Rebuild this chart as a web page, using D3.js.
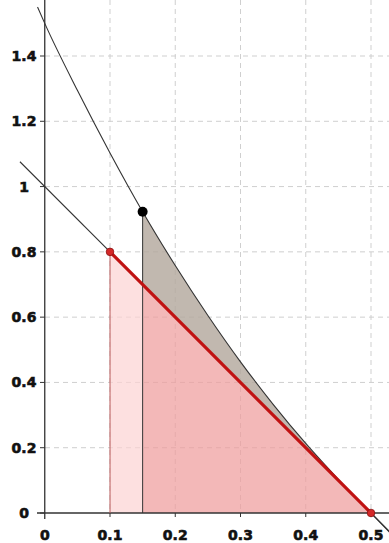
<!DOCTYPE html>
<html>
<head>
<meta charset="utf-8">
<script src="https://cdn.jsdelivr.net/npm/d3@7"></script>
<style>
	html, body { margin: 0; padding: 0; background: #fff; }
	svg { display: block; }
</style>
</head>
<body>
<svg id="chart" width="389" height="543"></svg>
<script>

// tick labels
let xTicks = [0, 0.1, 0.2, 0.3, 0.4, 0.5];
let yTicks = [0, 0.2, 0.4, 0.6, 0.8, 1, 1.2, 1.4];

// straight line through (0,1) and (0.5,0)
let lineX = [-0.038, 0.53];
let lineY = [1.076, -0.06];

// the upper curve
let curveX = [-0.011, 0, 0.05, 0.1, 0.15, 0.2, 0.25, 0.3, 0.35, 0.4, 0.45, 0.5, 0.53];
let curveY = [1.55, 1.5, 1.295, 1.103, 0.923, 0.758, 0.605, 0.463, 0.333, 0.213, 0.103, 0, -0.062];

// red segment and its end points
let redX = [0.1, 0.5];
let redY = [0.8, 0];

// black point on the curve and where its drop meets the line
let blackX = 0.15;
let blackY = 0.923;
let footY = 0.7;

let svg = d3.select('#chart');

let x = d3.scaleLinear().domain([0, 0.5]).range([44.75, 371]);
let y = d3.scaleLinear().domain([0, 1.4]).range([513, 56]);

// grid
let grid = svg.append('g')
	.attr('stroke', '#cfcfcf')
	.attr('stroke-width', 1)
	.attr('stroke-dasharray', '5,4');
for (let t of xTicks.slice(1)) {
	grid.append('line')
		.attr('x1', x(t)).attr('x2', x(t))
		.attr('y1', 0).attr('y2', 513);
}
for (let t of yTicks.slice(1)) {
	grid.append('line')
		.attr('x1', 45).attr('x2', 389)
		.attr('y1', y(t)).attr('y2', y(t));
}

let curvePts = curveX.map((d, i) => [d, curveY[i]]);
let path = d3.line().x(d => x(d[0])).y(d => y(d[1]));
let smooth = d3.line().x(d => x(d[0])).y(d => y(d[1])).curve(d3.curveMonotoneX);

// light pink triangle from x = 0.1
svg.append('path')
	.attr('d', path([[redX[0], 0], [redX[0], redY[0]], [blackX, footY], [blackX, 0]]) + 'Z')
	.attr('fill', 'rgba(252,211,211,0.7)');

// darker pink part from x = 0.15
svg.append('path')
	.attr('d', path([[blackX, 0], [blackX, footY], [redX[1], redY[1]]]) + 'Z')
	.attr('fill', 'rgba(238,156,156,0.72)');

// gray region between the curve and the line
let grayTop = curvePts.filter(d => d[0] >= blackX && d[0] <= redX[1]);
svg.append('path')
	.attr('d', smooth(grayTop) + 'L' + x(blackX) + ',' + y(footY) + 'Z')
	.attr('fill', 'rgba(179,168,158,0.82)');

// axes
svg.append('line')
	.attr('x1', 37).attr('x2', 389)
	.attr('y1', y(0)).attr('y2', y(0))
	.attr('stroke', '#333').attr('stroke-width', 1.3);
svg.append('line')
	.attr('x1', x(0)).attr('x2', x(0))
	.attr('y1', 0).attr('y2', 519)
	.attr('stroke', '#333').attr('stroke-width', 1.3);
for (let t of yTicks) {
	svg.append('line')
		.attr('x1', 40).attr('x2', x(0))
		.attr('y1', y(t)).attr('y2', y(t))
		.attr('stroke', '#333');
}
for (let t of xTicks.slice(1)) {
	svg.append('line')
		.attr('x1', x(t)).attr('x2', x(t))
		.attr('y1', y(0)).attr('y2', y(0) + 4)
		.attr('stroke', '#333');
}

// verticals
svg.append('line')
	.attr('x1', x(redX[0])).attr('x2', x(redX[0]))
	.attr('y1', y(0)).attr('y2', y(redY[0]))
	.attr('stroke', '#b85a5a').attr('stroke-width', 1);
svg.append('line')
	.attr('x1', x(blackX)).attr('x2', x(blackX))
	.attr('y1', y(0)).attr('y2', y(blackY))
	.attr('stroke', '#333').attr('stroke-width', 1);

// straight line and curve
svg.append('path')
	.attr('d', path(lineX.map((d, i) => [d, lineY[i]])))
	.attr('fill', 'none').attr('stroke', '#333').attr('stroke-width', 1.1);
svg.append('path')
	.attr('d', smooth(curvePts))
	.attr('fill', 'none').attr('stroke', '#333').attr('stroke-width', 1.1);

// red segment
svg.append('path')
	.attr('d', path(redX.map((d, i) => [d, redY[i]])))
	.attr('fill', 'none').attr('stroke', '#c01212').attr('stroke-width', 3.2);

// points
svg.selectAll('.rdot')
	.data(redX.map((d, i) => [d, redY[i]]))
	.join('circle')
	.attr('cx', d => x(d[0])).attr('cy', d => y(d[1]))
	.attr('r', 3.8)
	.attr('fill', '#d42828').attr('stroke', '#8a1010').attr('stroke-width', 0.8);
svg.append('circle')
	.attr('cx', x(blackX)).attr('cy', y(blackY))
	.attr('r', 5)
	.attr('fill', '#000');

// labels
let labels = svg.append('g')
	.attr('font-family', 'DejaVu Sans, sans-serif')
	.attr('font-weight', 'bold')
	.attr('font-size', 14)
	.attr('fill', '#111')
	.attr('stroke', '#111')
	.attr('stroke-width', 0.6);
labels.selectAll('.ylbl')
	.data(yTicks)
	.join('text')
	.attr('x', 24).attr('y', d => y(d))
	.attr('dy', '0.36em')
	.attr('text-anchor', 'middle')
	.text(d => d);
labels.selectAll('.xlbl')
	.data(xTicks)
	.join('text')
	.attr('x', d => x(d)).attr('y', 540)
	.attr('text-anchor', 'middle')
	.text(d => d);

</script>
</body>
</html>
